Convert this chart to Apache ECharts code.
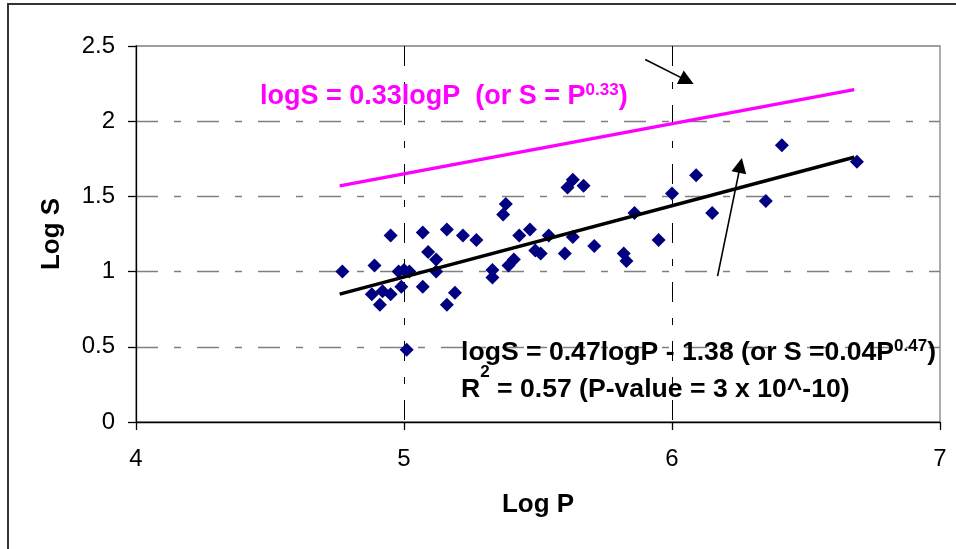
<!DOCTYPE html>
<html>
<head>
<meta charset="utf-8">
<script src="https://cdn.jsdelivr.net/npm/echarts@6/dist/echarts.min.js"></script>
<style>
html,body{margin:0;padding:0;background:#fff;}
#chart{width:956px;height:549px;}
</style>
</head>
<body>
<div id="chart"></div>
<script>
// ---- data ----
var logP = [4.77,4.95,4.89,5.07,5.16,5.22,5.27,5.09,5.12,4.98,5.00,5.02,5.12,4.99,5.07,4.88,4.92,4.95,4.91,5.19,5.16,5.01,
            5.63,5.61,5.67,5.38,5.37,5.43,5.47,5.54,5.63,5.49,5.51,5.60,5.71,5.82,5.83,5.41,5.39,5.33,5.33,
            5.86,5.95,6.00,6.09,6.15,6.35,6.41,6.69];
var logS = [1.00,1.24,1.04,1.26,1.28,1.24,1.21,1.13,1.08,1.00,1.01,1.00,1.00,0.90,0.90,0.85,0.87,0.85,0.78,0.86,0.78,0.48,
            1.61,1.56,1.57,1.45,1.38,1.24,1.28,1.24,1.23,1.14,1.12,1.12,1.17,1.12,1.07,1.08,1.04,1.01,0.96,
            1.39,1.21,1.52,1.64,1.39,1.47,1.84,1.73];
var fitLineP = [4.76, 6.68];
var fitLineS = [0.85, 1.76];
var refLineP = [4.76, 6.68];
var refLineS = [1.57, 2.21];
var arrow1 = [[5.90, 2.41], [6.056, 2.27]];
var arrow2 = [[6.17, 0.97], [6.255, 1.706]];
var xTicks = [4, 5, 6, 7];
var yTicks = [0, 0.5, 1, 1.5, 2, 2.5];
var xTitle = 'Log P';
var yTitle = 'Log S';
var note1 = ['logS = 0.33logP  (or S = P', '0.33', ')'];
var note2 = ['logS = 0.47logP - 1.38 (or S =0.04P', '0.47', ')'];
var note3 = ['R', '2', ' = 0.57 (P-value = 3 x 10^-10)'];

// ---- chart ----
var FONT = "'Liberation Sans', Arial, sans-serif";
var chart = echarts.init(document.getElementById('chart'), null, {renderer: 'canvas'});
function pairs(a, b) { return a.map(function (v, i) { return [v, b[i]]; }); }
function richStyle(color, size, lh, va) {
  var s = {fill: color, fontSize: size, fontWeight: 'bold', fontFamily: FONT, lineHeight: lh};
  if (va) s.verticalAlign = va;
  return s;
}
var option = {
  animation: false,
  backgroundColor: '#ffffff',
  grid: {left: 136, top: 46, right: 16, bottom: 127, show: true, borderColor: '#808080', borderWidth: 1.3,
         backgroundColor: 'transparent', containLabel: false, outerBoundsMode: 'none'},
  xAxis: {
    type: 'value', min: xTicks[0], max: xTicks[xTicks.length - 1], interval: xTicks[1] - xTicks[0],
    name: xTitle, nameLocation: 'middle', nameGap: 70,
    nameTextStyle: {fontSize: 26, fontWeight: 'bold', color: '#000', fontFamily: FONT},
    axisLine: {show: true, onZero: false, lineStyle: {color: '#000', width: 1.3}},
    axisTick: {show: true, inside: false, length: 8, lineStyle: {color: '#000', width: 1.3}},
    axisLabel: {margin: 25, fontSize: 24, color: '#000', fontFamily: FONT},
    splitLine: {show: true, showMinLine: false, showMaxLine: false,
                lineStyle: {color: '#000', width: 1, type: [20, 16, 7, 16]}}
  },
  yAxis: {
    type: 'value', min: yTicks[0], max: yTicks[yTicks.length - 1], interval: yTicks[1] - yTicks[0],
    name: yTitle, nameLocation: 'middle', nameGap: 71, nameRotate: 90,
    nameTextStyle: {fontSize: 26, fontWeight: 'bold', color: '#000', fontFamily: FONT},
    axisLine: {show: true, onZero: false, lineStyle: {color: '#000', width: 1.3}},
    axisTick: {show: true, inside: false, length: 8, lineStyle: {color: '#000', width: 1.3}},
    axisLabel: {margin: 21, fontSize: 24, color: '#000', fontFamily: FONT},
    splitLine: {show: true, showMinLine: false, showMaxLine: false,
                lineStyle: {color: '#808080', width: 1.3, type: [22, 16, 7, 16]}}
  },
  series: [
    {
      type: 'scatter', data: pairs(logP, logS), symbol: 'diamond', symbolSize: 14,
      itemStyle: {color: '#000080', opacity: 1}, z: 3, silent: true
    },
    {
      type: 'line', data: pairs(refLineP, refLineS), showSymbol: false, symbol: 'none',
      lineStyle: {color: '#FF00FF', width: 3.5}, z: 4, silent: true
    },
    {
      type: 'line', data: pairs(fitLineP, fitLineS), showSymbol: false, symbol: 'none',
      lineStyle: {color: '#000000', width: 3.5}, z: 5, silent: true,
      markLine: {
        silent: true, animation: false,
        symbol: ['none', 'triangle'], symbolSize: 15,
        label: {show: false},
        lineStyle: {color: '#000', width: 1.6, type: 'solid'},
        itemStyle: {color: '#000'},
        data: [
          [{coord: arrow1[0]}, {coord: arrow1[1]}],
          [{coord: arrow2[0]}, {coord: arrow2[1]}]
        ]
      }
    }
  ],
  graphic: [
    {type: 'rect', silent: true, z: -10, shape: {x: 8, y: 4, width: 1200, height: 800},
     style: {fill: 'none', stroke: '#333', lineWidth: 2}},
    {type: 'text', silent: true, x: 260, y: 82, z: 1,
     style: {text: '{m|' + note1[0] + '}{s|' + note1[1] + '}{m|' + note1[2] + '}', align: 'left', verticalAlign: 'top',
             rich: {m: richStyle('#FF00FF', 27, 30), s: richStyle('#FF00FF', 17, 17, 'top')}}},
    {type: 'text', silent: true, x: 461, y: 338, z: 1,
     style: {text: '{m|' + note2[0] + '}{s|' + note2[1] + '}{m|' + note2[2] + '}', align: 'left', verticalAlign: 'top',
             rich: {m: richStyle('#000', 26.6, 30), s: richStyle('#000', 17, 17, 'top')}}},
    {type: 'text', silent: true, x: 461, y: 364, z: 1,
     style: {text: '{m|' + note3[0] + '}{s|' + note3[1] + '}{m|' + note3[2] + '}', align: 'left', verticalAlign: 'top',
             rich: {m: richStyle('#000', 26.6, 52), s: richStyle('#000', 17, 17, 'top')}}}
  ]
};
chart.setOption(option);
</script>
</body>
</html>
